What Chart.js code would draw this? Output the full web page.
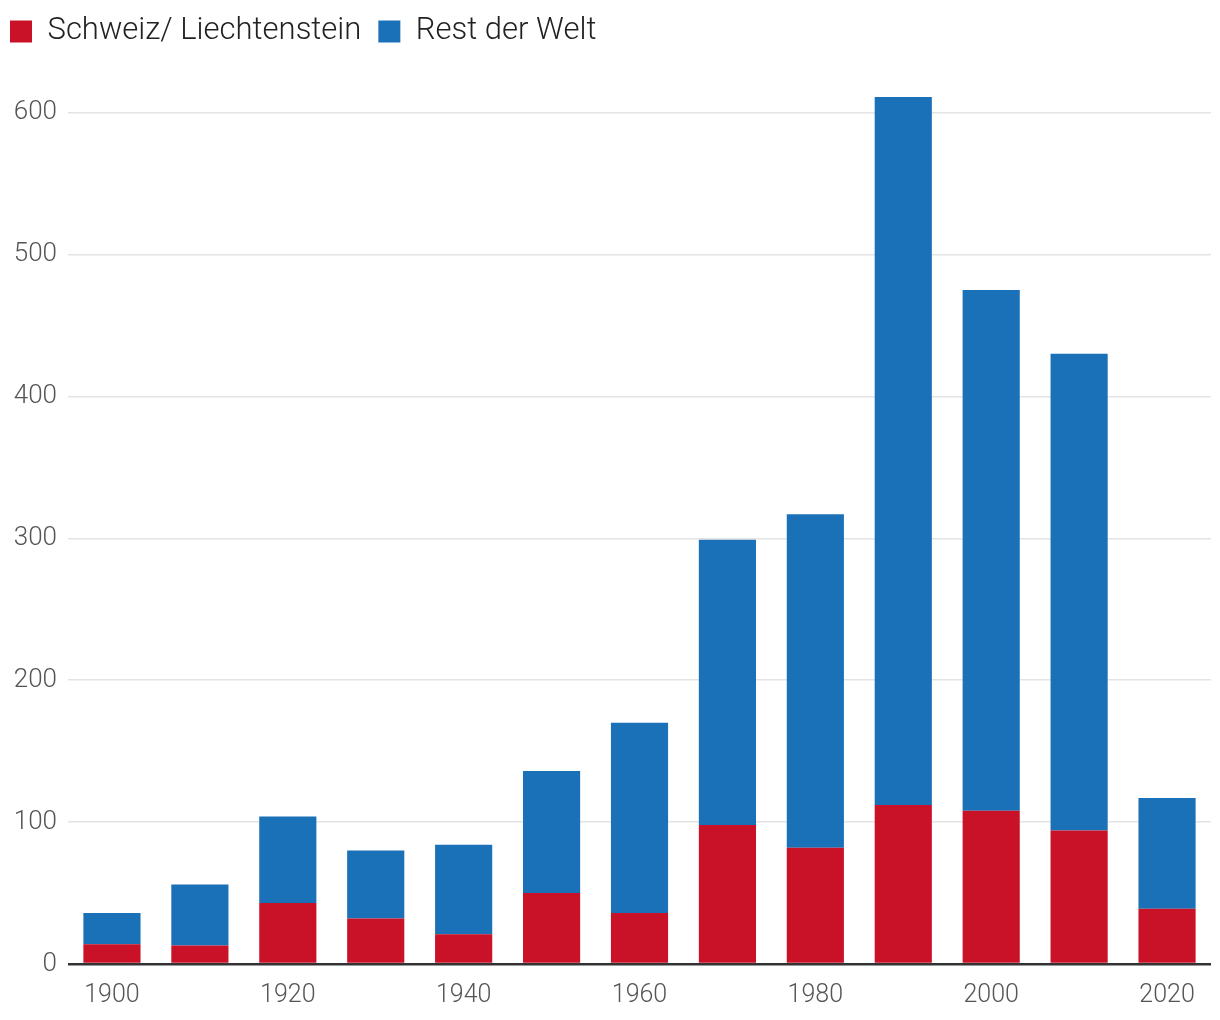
<!DOCTYPE html>
<html>
<head>
<meta charset="utf-8">
<script src="https://cdn.jsdelivr.net/npm/chart.js@4/dist/chart.umd.min.js"></script>
<style>
html,body{margin:0;padding:0;background:#fff;}
#wrap{position:relative;width:1220px;height:1020px;}
</style>
</head>
<body>
<div id="wrap"><canvas id="c"></canvas></div>
<script>
const categories = ['1900','1910','1920','1930','1940','1950','1960','1970','1980','1990','2000','2010','2020'];
const schweiz = [14, 13, 43, 32, 21, 50, 36, 98, 82, 112, 108, 94, 39];
const restWelt = [22, 43, 61, 48, 63, 86, 134, 201, 235, 499, 367, 336, 78];
const yTicks = [0, 100, 200, 300, 400, 500, 600];
const seriesNames = ['Schweiz/ Liechtenstein', 'Rest der Welt'];

const FONT = 'Roboto, "Noto Sans", sans-serif';

const legendGap = {
  id: 'legendGap',
  beforeInit(chart) {
    const orig = chart.legend.fit;
    chart.legend.fit = function() {
      orig.call(this);
      this.height += 13;
    };
  }
};

new Chart(document.getElementById('c'), {
  type: 'bar',
  data: {
    labels: categories,
    datasets: [
      { label: seriesNames[0], data: schweiz, backgroundColor: '#c91127', borderWidth: 0 },
      { label: seriesNames[1], data: restWelt, backgroundColor: '#1a71b7', borderWidth: 0 }
    ]
  },
  plugins: [legendGap],
  options: {
    responsive: true,
    maintainAspectRatio: false,
    animation: false,
    datasets: { bar: { categoryPercentage: 1.0, barPercentage: 0.65 } },
    layout: { padding: { top: -1, right: 9, bottom: -8, left: -7 } },
    plugins: {
      tooltip: { enabled: false },
      legend: {
        position: 'top',
        align: 'start',
        labels: {
          boxWidth: 22,
          boxHeight: 22,
          padding: 17,
          color: '#222',
          font: { family: FONT, size: 31, weight: '300' }
        }
      }
    },
    scales: {
      x: {
        stacked: true,
        grid: { display: false, drawTicks: false },
        border: { display: false },
        ticks: {
          autoSkip: false,
          maxRotation: 0,
          padding: 17,
          color: '#555',
          font: { family: FONT, size: 25, weight: '300' },
          callback: function(v, i) { return i % 2 === 0 ? categories[i] : ''; }
        }
      },
      y: {
        stacked: true,
        min: 0,
        max: 630,
        afterBuildTicks: function(scale) { scale.ticks = yTicks.map(v => ({ value: v })); },
        afterFit: function(scale) { scale.width = 75; },
        grid: {
          drawTicks: false,
          color: ctx => ctx.tick && ctx.tick.value === 0 ? '#333' : '#e4e4e4',
          lineWidth: ctx => ctx.tick && ctx.tick.value === 0 ? 2.5 : 1.5
        },
        border: { display: false },
        ticks: {
          padding: 11,
          color: '#555',
          font: { family: FONT, size: 26, weight: '300' }
        }
      }
    }
  }
});
</script>
</body>
</html>
